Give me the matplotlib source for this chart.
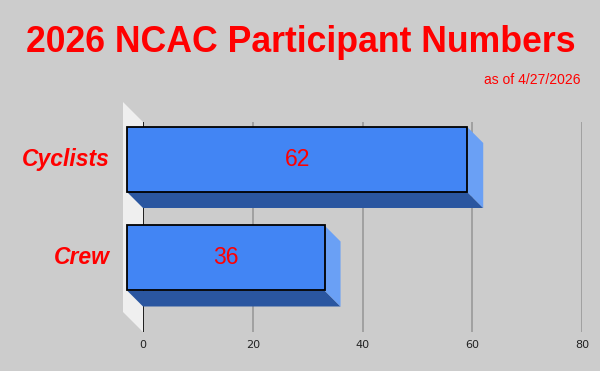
import matplotlib.pyplot as plt
from matplotlib.patches import Polygon, Rectangle
import matplotlib.transforms as mtransforms

categories = ["Crew", "Cyclists"]
participants = [36, 62]
x_ticks = [0, 20, 40, 60, 80]

title = "2026 NCAC Participant Numbers"
subtitle = "as of 4/27/2026"

bg = "#cccccc"
red = "#ff0000"
front_col = "#4285f4"
bottom_col = "#2a56a0"
side_col = "#6aa0f5"
wall_col = "#efefef"
depth = 16  # px, 3d offset of the bars
wall_depth = 20  # px, 3d offset of the left wall

plt.rcParams["font.family"] = ["Liberation Sans", "DejaVu Sans"]

fig = plt.figure(figsize=(6, 3.71), dpi=100, facecolor=bg)
W, H = 600, 371
# axes placed so that the back plane spans x 143..582 px, y 122..332 px
ax = fig.add_axes([143 / W, 1 - 332 / H, (582 - 143) / W, (332 - 122) / H])
ax.set_facecolor("none")
ax.set_xlim(0, 80)
ax.set_ylim(-0.589, 1.543)
for s in ax.spines.values():
    s.set_visible(False)
ax.set_xticks([])
ax.set_yticks([])

shift = mtransforms.ScaledTranslation(-depth / 100, depth / 100, fig.dpi_scale_trans)
front = ax.transData + shift

# left wall (3d)
ybot, ytop = ax.get_ylim()
p_top = ax.transData.transform((0, ytop))
p_bot = ax.transData.transform((0, ybot))
wall_pts = [p_bot, p_top,
            (p_top[0] - wall_depth, p_top[1] + wall_depth),
            (p_bot[0] - wall_depth, p_bot[1] + wall_depth)]
ax.add_patch(Polygon(wall_pts, closed=True, transform=None, facecolor=wall_col,
                     edgecolor="none", zorder=0, clip_on=False))

# gridlines
for t in x_ticks[1:]:
    ax.axvline(t, color="#999999", lw=1.2, zorder=1)
ax.axvline(0, color="black", lw=1.2, zorder=1)
for t in x_ticks:
    ax.text(t, -0.725, str(t), ha="center", va="center", fontsize=8,
            color="#222222", family=["DejaVu Sans"], clip_on=False)

bar_h = 0.66
for i, (cat, v) in enumerate(zip(categories, participants)):
    y0, y1 = i - bar_h / 2, i + bar_h / 2
    bl = ax.transData.transform((0, y0))
    br = ax.transData.transform((v, y0))
    tr = ax.transData.transform((v, y1))
    dx, dy = -depth, depth
    # bottom face
    ax.add_patch(Polygon([bl, br, (br[0] + dx, br[1] + dy), (bl[0] + dx, bl[1] + dy)],
                         transform=None, facecolor=bottom_col, edgecolor="none",
                         zorder=2, clip_on=False))
    # right face
    ax.add_patch(Polygon([br, tr, (tr[0] + dx, tr[1] + dy), (br[0] + dx, br[1] + dy)],
                         transform=None, facecolor=side_col, edgecolor="none",
                         zorder=2, clip_on=False))
    # front face
    ax.add_patch(Rectangle((0, y0), v, bar_h, transform=front, facecolor=front_col,
                           edgecolor="black", lw=1.3, zorder=3, clip_on=False))
    ax.text(v / 2, i, str(v), transform=front, ha="center", va="center",
            fontsize=16.5, color=red, zorder=4, clip_on=False)
    ax.text(-3.1, i, cat, transform=front, ha="right", va="center", fontsize=16.5,
            fontweight="bold", fontstyle="italic", color=red, clip_on=False)

fig.text(301 / W, 1 - 42 / H, title, ha="center", va="center", fontsize=25.7,
         fontweight="bold", color=red)
fig.text(580 / W, 1 - 80 / H, subtitle, ha="right", va="center", fontsize=10, color=red)

fig.savefig("out.png", dpi=100, facecolor=bg)
